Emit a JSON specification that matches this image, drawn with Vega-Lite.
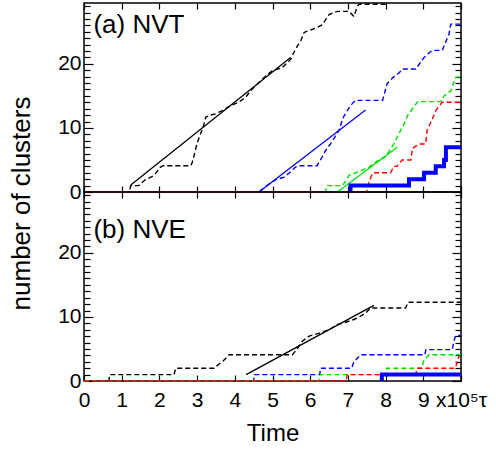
{
  "$schema": "https://vega.github.io/schema/vega-lite/v6.json",
  "padding": {"left": 7, "top": 0, "right": 2, "bottom": 4},
  "bounds": "flush",
  "spacing": 0,
  "config": {
    "font": "Liberation Sans",
    "view": {"stroke": "black", "strokeWidth": 1.5},
    "axis": {"grid": false, "domain": false, "tickColor": "black", "tickWidth": 1.2, "labelColor": "black", "titleColor": "black", "labelFont": "Liberation Sans", "titleFont": "Liberation Sans", "titleFontWeight": "normal", "labelFlush": false, "labelOverlap": false}
  },
  "datasets": {
    "nvt": [
      {"s":"black","k":"mean","i":0,"t":0,"n":0},{"s":"black","k":"mean","i":1,"t":1.2,"n":0},{"s":"black","k":"mean","i":2,"t":1.24,"n":1.0},{"s":"black","k":"mean","i":3,"t":1.45,"n":1.0},{"s":"black","k":"mean","i":4,"t":1.6,"n":1.8},{"s":"black","k":"mean","i":5,"t":1.86,"n":2.6},{"s":"black","k":"mean","i":6,"t":2.03,"n":3.9},{"s":"black","k":"mean","i":7,"t":2.1,"n":4.1},{"s":"black","k":"mean","i":8,"t":2.83,"n":4.1},{"s":"black","k":"mean","i":9,"t":2.87,"n":4.6},{"s":"black","k":"mean","i":10,"t":2.92,"n":5.7},{"s":"black","k":"mean","i":11,"t":3.0,"n":7.6},{"s":"black","k":"mean","i":12,"t":3.09,"n":9.1},{"s":"black","k":"mean","i":13,"t":3.16,"n":10.1},{"s":"black","k":"mean","i":14,"t":3.23,"n":11.7},{"s":"black","k":"mean","i":15,"t":3.35,"n":12.0},{"s":"black","k":"mean","i":16,"t":3.49,"n":12.2},{"s":"black","k":"mean","i":17,"t":3.67,"n":12.7},{"s":"black","k":"mean","i":18,"t":3.89,"n":13.5},{"s":"black","k":"mean","i":19,"t":4.1,"n":14.0},{"s":"black","k":"mean","i":20,"t":4.29,"n":14.8},{"s":"black","k":"mean","i":21,"t":4.42,"n":15.8},{"s":"black","k":"mean","i":22,"t":4.64,"n":17.1},{"s":"black","k":"mean","i":23,"t":4.82,"n":18.1},{"s":"black","k":"mean","i":24,"t":4.99,"n":18.9},{"s":"black","k":"mean","i":25,"t":5.26,"n":19.4},{"s":"black","k":"mean","i":26,"t":5.48,"n":20.7},{"s":"black","k":"mean","i":27,"t":5.61,"n":22.3},{"s":"black","k":"mean","i":28,"t":5.75,"n":23.6},{"s":"black","k":"mean","i":29,"t":5.84,"n":24.9},{"s":"black","k":"mean","i":30,"t":6.15,"n":25.6},{"s":"black","k":"mean","i":31,"t":6.32,"n":26.1},{"s":"black","k":"mean","i":32,"t":6.5,"n":27.7},{"s":"black","k":"mean","i":33,"t":6.72,"n":28.2},{"s":"black","k":"mean","i":34,"t":7.03,"n":28.2},{"s":"black","k":"mean","i":35,"t":7.16,"n":27.4},{"s":"black","k":"mean","i":36,"t":7.25,"n":29.0},{"s":"black","k":"mean","i":37,"t":7.3,"n":29.3},{"s":"black","k":"mean","i":38,"t":8.0,"n":29.3},
      {"s":"blue","k":"mean","i":0,"t":0,"n":0},{"s":"blue","k":"mean","i":1,"t":4.64,"n":0},{"s":"blue","k":"mean","i":2,"t":4.85,"n":1.0},{"s":"blue","k":"mean","i":3,"t":5.08,"n":1.9},{"s":"blue","k":"mean","i":4,"t":5.3,"n":2.3},{"s":"blue","k":"mean","i":5,"t":5.45,"n":3.0},{"s":"blue","k":"mean","i":6,"t":5.61,"n":3.9},{"s":"blue","k":"mean","i":7,"t":5.7,"n":4.1},{"s":"blue","k":"mean","i":8,"t":6.18,"n":4.1},{"s":"blue","k":"mean","i":9,"t":6.3,"n":5.3},{"s":"blue","k":"mean","i":10,"t":6.41,"n":6.5},{"s":"blue","k":"mean","i":11,"t":6.55,"n":7.6},{"s":"blue","k":"mean","i":12,"t":6.76,"n":9.6},{"s":"blue","k":"mean","i":13,"t":6.85,"n":11.2},{"s":"blue","k":"mean","i":14,"t":6.9,"n":11.9},{"s":"blue","k":"mean","i":15,"t":7.07,"n":13.5},{"s":"blue","k":"mean","i":16,"t":7.2,"n":14.3},{"s":"blue","k":"mean","i":17,"t":7.92,"n":14.3},{"s":"blue","k":"mean","i":18,"t":8.04,"n":16.9},{"s":"blue","k":"mean","i":19,"t":8.2,"n":17.9},{"s":"blue","k":"mean","i":20,"t":8.36,"n":18.6},{"s":"blue","k":"mean","i":21,"t":8.45,"n":19.2},{"s":"blue","k":"mean","i":22,"t":8.8,"n":19.2},{"s":"blue","k":"mean","i":23,"t":9.02,"n":21.0},{"s":"blue","k":"mean","i":24,"t":9.15,"n":21.7},{"s":"blue","k":"mean","i":25,"t":9.24,"n":22.1},{"s":"blue","k":"mean","i":26,"t":9.5,"n":22.1},{"s":"blue","k":"mean","i":27,"t":9.55,"n":22.8},{"s":"blue","k":"mean","i":28,"t":9.68,"n":24.6},{"s":"blue","k":"mean","i":29,"t":9.73,"n":26.2},{"s":"blue","k":"mean","i":30,"t":10,"n":26.2},
      {"s":"green","k":"mean","i":0,"t":0,"n":0},{"s":"green","k":"mean","i":1,"t":6.4,"n":0},{"s":"green","k":"mean","i":2,"t":6.45,"n":1.0},{"s":"green","k":"mean","i":3,"t":6.85,"n":1.0},{"s":"green","k":"mean","i":4,"t":6.95,"n":1.8},{"s":"green","k":"mean","i":5,"t":7.03,"n":2.6},{"s":"green","k":"mean","i":6,"t":7.16,"n":2.9},{"s":"green","k":"mean","i":7,"t":7.38,"n":3.4},{"s":"green","k":"mean","i":8,"t":7.56,"n":3.9},{"s":"green","k":"mean","i":9,"t":7.82,"n":5.0},{"s":"green","k":"mean","i":10,"t":8.0,"n":5.5},{"s":"green","k":"mean","i":11,"t":8.22,"n":7.5},{"s":"green","k":"mean","i":12,"t":8.3,"n":8.5},{"s":"green","k":"mean","i":13,"t":8.44,"n":10.1},{"s":"green","k":"mean","i":14,"t":8.49,"n":10.6},{"s":"green","k":"mean","i":15,"t":8.58,"n":11.9},{"s":"green","k":"mean","i":16,"t":8.8,"n":13.7},{"s":"green","k":"mean","i":17,"t":8.85,"n":14.1},{"s":"green","k":"mean","i":18,"t":9.46,"n":14.1},{"s":"green","k":"mean","i":19,"t":9.55,"n":15.0},{"s":"green","k":"mean","i":20,"t":9.73,"n":15.8},{"s":"green","k":"mean","i":21,"t":9.86,"n":17.9},{"s":"green","k":"mean","i":22,"t":10,"n":18.0},
      {"s":"red","k":"mean","i":0,"t":0,"n":0},{"s":"red","k":"mean","i":1,"t":7.5,"n":0},{"s":"red","k":"mean","i":2,"t":7.56,"n":1.6},{"s":"red","k":"mean","i":3,"t":7.65,"n":2.9},{"s":"red","k":"mean","i":4,"t":7.69,"n":3.0},{"s":"red","k":"mean","i":5,"t":8.13,"n":3.0},{"s":"red","k":"mean","i":6,"t":8.22,"n":4.0},{"s":"red","k":"mean","i":7,"t":8.3,"n":4.0},{"s":"red","k":"mean","i":8,"t":8.44,"n":5.0},{"s":"red","k":"mean","i":9,"t":8.67,"n":5.0},{"s":"red","k":"mean","i":10,"t":8.71,"n":6.8},{"s":"red","k":"mean","i":11,"t":8.89,"n":7.5},{"s":"red","k":"mean","i":12,"t":9.06,"n":7.5},{"s":"red","k":"mean","i":13,"t":9.1,"n":9.6},{"s":"red","k":"mean","i":14,"t":9.24,"n":11.4},{"s":"red","k":"mean","i":15,"t":9.33,"n":12.7},{"s":"red","k":"mean","i":16,"t":9.5,"n":14.0},{"s":"red","k":"mean","i":17,"t":10,"n":14.0},
      {"s":"black","k":"fit","i":0,"t":1.24,"n":1.1},{"s":"black","k":"fit","i":1,"t":5.48,"n":21.0},
      {"s":"blue","k":"fit","i":0,"t":4.64,"n":0},{"s":"blue","k":"fit","i":1,"t":7.47,"n":12.8},
      {"s":"green","k":"fit","i":0,"t":6.72,"n":0},{"s":"green","k":"fit","i":1,"t":8.31,"n":7.0},
      {"s":"blue","k":"run","i":0,"t":7.07,"n":0},{"s":"blue","k":"run","i":1,"t":7.07,"n":1},{"s":"blue","k":"run","i":2,"t":8.62,"n":1},{"s":"blue","k":"run","i":3,"t":8.62,"n":2},{"s":"blue","k":"run","i":4,"t":9.02,"n":2},{"s":"blue","k":"run","i":5,"t":9.02,"n":3},{"s":"blue","k":"run","i":6,"t":9.33,"n":3},{"s":"blue","k":"run","i":7,"t":9.33,"n":4},{"s":"blue","k":"run","i":8,"t":9.55,"n":4},{"s":"blue","k":"run","i":9,"t":9.55,"n":5},{"s":"blue","k":"run","i":10,"t":9.6,"n":5},{"s":"blue","k":"run","i":11,"t":9.6,"n":7},{"s":"blue","k":"run","i":12,"t":10,"n":7}
    ],
    "nve": [
      {"s":"black","k":"mean","i":0,"t":0,"n":0},{"s":"black","k":"mean","i":1,"t":0.66,"n":0},{"s":"black","k":"mean","i":2,"t":0.68,"n":1.0},{"s":"black","k":"mean","i":3,"t":2.39,"n":1.0},{"s":"black","k":"mean","i":4,"t":2.43,"n":2.0},{"s":"black","k":"mean","i":5,"t":3.45,"n":2.0},{"s":"black","k":"mean","i":6,"t":3.55,"n":2.5},{"s":"black","k":"mean","i":7,"t":3.67,"n":3.0},{"s":"black","k":"mean","i":8,"t":3.85,"n":4.1},{"s":"black","k":"mean","i":9,"t":5.53,"n":4.1},{"s":"black","k":"mean","i":10,"t":5.65,"n":5.0},{"s":"black","k":"mean","i":11,"t":5.79,"n":6.2},{"s":"black","k":"mean","i":12,"t":5.97,"n":7.0},{"s":"black","k":"mean","i":13,"t":6.2,"n":7.4},{"s":"black","k":"mean","i":14,"t":6.5,"n":8.0},{"s":"black","k":"mean","i":15,"t":6.71,"n":8.8},{"s":"black","k":"mean","i":16,"t":6.9,"n":9.1},{"s":"black","k":"mean","i":17,"t":7.16,"n":9.6},{"s":"black","k":"mean","i":18,"t":7.3,"n":10.0},{"s":"black","k":"mean","i":19,"t":7.47,"n":10.6},{"s":"black","k":"mean","i":20,"t":7.6,"n":11.4},{"s":"black","k":"mean","i":21,"t":8.53,"n":11.4},{"s":"black","k":"mean","i":22,"t":8.6,"n":12.3},{"s":"black","k":"mean","i":23,"t":10,"n":12.3},
      {"s":"blue","k":"mean","i":0,"t":0,"n":0},{"s":"blue","k":"mean","i":1,"t":4.5,"n":0},{"s":"blue","k":"mean","i":2,"t":4.52,"n":1.0},{"s":"blue","k":"mean","i":3,"t":6.25,"n":1.0},{"s":"blue","k":"mean","i":4,"t":6.28,"n":2.0},{"s":"blue","k":"mean","i":5,"t":7.1,"n":2.0},{"s":"blue","k":"mean","i":6,"t":7.16,"n":3.0},{"s":"blue","k":"mean","i":7,"t":7.34,"n":4.1},{"s":"blue","k":"mean","i":8,"t":9.04,"n":4.1},{"s":"blue","k":"mean","i":9,"t":9.07,"n":4.9},{"s":"blue","k":"mean","i":10,"t":9.77,"n":4.9},{"s":"blue","k":"mean","i":11,"t":9.81,"n":6.2},{"s":"blue","k":"mean","i":12,"t":9.86,"n":7.1},{"s":"blue","k":"mean","i":13,"t":10,"n":7.1},
      {"s":"green","k":"mean","i":0,"t":0,"n":0},{"s":"green","k":"mean","i":1,"t":6.23,"n":0},{"s":"green","k":"mean","i":2,"t":6.26,"n":1.0},{"s":"green","k":"mean","i":3,"t":8.0,"n":1.0},{"s":"green","k":"mean","i":4,"t":8.03,"n":2.0},{"s":"green","k":"mean","i":5,"t":8.97,"n":2.0},{"s":"green","k":"mean","i":6,"t":9.0,"n":3.0},{"s":"green","k":"mean","i":7,"t":9.15,"n":4.1},{"s":"green","k":"mean","i":8,"t":10,"n":4.1},
      {"s":"red","k":"mean","i":0,"t":0,"n":0},{"s":"red","k":"mean","i":1,"t":6.95,"n":0},{"s":"red","k":"mean","i":2,"t":6.98,"n":1.0},{"s":"red","k":"mean","i":3,"t":8.8,"n":1.0},{"s":"red","k":"mean","i":4,"t":8.83,"n":2.0},{"s":"red","k":"mean","i":5,"t":9.85,"n":2.0},{"s":"red","k":"mean","i":6,"t":9.9,"n":3.0},{"s":"red","k":"mean","i":7,"t":9.95,"n":4.0},{"s":"red","k":"mean","i":8,"t":10,"n":4.0},
      {"s":"black","k":"fit","i":0,"t":4.3,"n":1.0},{"s":"black","k":"fit","i":1,"t":7.69,"n":11.8},
      {"s":"blue","k":"run","i":0,"t":7.9,"n":0},{"s":"blue","k":"run","i":1,"t":7.9,"n":1},{"s":"blue","k":"run","i":2,"t":10,"n":1}
    ]
  },
  "vconcat": [
    {
      "width": 377,
      "height": 189,
      "layer": [
        {
          "data": {"name": "nvt"},
          "transform": [{"filter": "datum.k === 'mean'"}],
          "mark": {"type": "line", "strokeDash": [5, 3], "strokeWidth": 1.4, "strokeCap": "butt"},
          "encoding": {
            "x": {"field": "t", "type": "quantitative", "scale": {"domain": [0, 10], "nice": false},
                  "axis": {"orient": "bottom", "values": [0,1,2,3,4,5,6,7,8,9,10], "tickSize": -6, "labels": false, "title": null}},
            "y": {"field": "n", "type": "quantitative", "scale": {"domain": [0, 29.5], "nice": false},
                  "axis": {"orient": "left", "values": [0,1,2,3,4,5,6,7,8,9,10,11,12,13,14,15,16,17,18,19,20,21,22,23,24,25,26,27,28,29],
                           "tickSize": {"condition": {"test": "datum.value % 10 === 0", "value": -9}, "value": -6},
                           "labelExpr": "datum.value % 10 === 0 ? datum.label : ''",
                           "labelFontSize": {"condition": {"test": "datum.value % 10 === 0", "value": 21}, "value": 1},
                           "labelPadding": 12,
                           "title": "number of clusters", "titleFontSize": 26, "titleX": -50, "titleY": 200}},
            "color": {"field": "s", "type": "nominal", "scale": {"domain": ["black","blue","green","red"], "range": ["#000000","#0000ff","#00dd00","#ff0000"]}, "legend": null},
            "order": {"field": "i", "type": "quantitative"}
          }
        },
        {
          "data": {"name": "nvt"},
          "transform": [{"filter": "datum.k === 'fit'"}],
          "mark": {"type": "line", "strokeWidth": 1.3},
          "encoding": {
            "x": {"field": "t", "type": "quantitative", "axis": null},
            "y": {"field": "n", "type": "quantitative", "axis": null},
            "color": {"field": "s", "type": "nominal", "legend": null},
            "order": {"field": "i", "type": "quantitative"}
          }
        },
        {
          "data": {"name": "nvt"},
          "transform": [{"filter": "datum.k === 'run'"}],
          "mark": {"type": "line", "strokeWidth": 4, "strokeJoin": "miter", "strokeCap": "butt"},
          "encoding": {
            "x": {"field": "t", "type": "quantitative", "axis": null},
            "y": {"field": "n", "type": "quantitative", "axis": null},
            "color": {"field": "s", "type": "nominal", "legend": null},
            "order": {"field": "i", "type": "quantitative"}
          }
        },
        {
          "data": {"values": [{"label": "(a) NVT", "t": 0.25, "n": 24.8}]},
          "mark": {"type": "text", "align": "left", "baseline": "alphabetic", "fontSize": 26, "font": "Liberation Sans", "color": "black"},
          "encoding": {
            "x": {"field": "t", "type": "quantitative", "axis": {"orient": "top", "values": [0,1,2,3,4,5,6,7,8,9,10], "tickSize": -6, "labels": false, "title": null}},
            "y": {"field": "n", "type": "quantitative",
                  "axis": {"orient": "right", "values": [0,1,2,3,4,5,6,7,8,9,10,11,12,13,14,15,16,17,18,19,20,21,22,23,24,25,26,27,28,29],
                           "tickSize": {"condition": {"test": "datum.value % 10 === 0", "value": -9}, "value": -6}, "labels": false, "title": null}},
            "text": {"field": "label"}
          }
        }
      ],
      "resolve": {"axis": {"x": "independent", "y": "independent"}}
    },
    {
      "width": 377,
      "height": 189,
      "layer": [
        {
          "data": {"name": "nve"},
          "transform": [{"filter": "datum.k === 'mean'"}],
          "mark": {"type": "line", "strokeDash": [5, 3], "strokeWidth": 1.4, "strokeCap": "butt"},
          "encoding": {
            "x": {"field": "t", "type": "quantitative", "scale": {"domain": [0, 10], "nice": false},
                  "axis": {"orient": "bottom", "values": [0,1,2,3,4,5,6,7,8,9,10], "tickSize": -6,
                           "labelExpr": "datum.value === 10 ? 'x10⁵τ' : datum.label",
                           "labelFontSize": 21, "labelPadding": 14,
                           "title": "Time", "titleFontSize": 24, "titlePadding": 11}},
            "y": {"field": "n", "type": "quantitative", "scale": {"domain": [0, 29.5], "nice": false},
                  "axis": {"orient": "left", "values": [0,1,2,3,4,5,6,7,8,9,10,11,12,13,14,15,16,17,18,19,20,21,22,23,24,25,26,27,28,29],
                           "tickSize": {"condition": {"test": "datum.value % 10 === 0", "value": -9}, "value": -6},
                           "labelExpr": "datum.value % 10 === 0 ? datum.label : ''",
                           "labelFontSize": {"condition": {"test": "datum.value % 10 === 0", "value": 21}, "value": 1},
                           "labelPadding": 12, "title": null}},
            "color": {"field": "s", "type": "nominal", "scale": {"domain": ["black","blue","green","red"], "range": ["#000000","#0000ff","#00dd00","#ff0000"]}, "legend": null},
            "order": {"field": "i", "type": "quantitative"}
          }
        },
        {
          "data": {"name": "nve"},
          "transform": [{"filter": "datum.k === 'fit'"}],
          "mark": {"type": "line", "strokeWidth": 1.3},
          "encoding": {
            "x": {"field": "t", "type": "quantitative", "axis": null},
            "y": {"field": "n", "type": "quantitative", "axis": null},
            "color": {"field": "s", "type": "nominal", "legend": null},
            "order": {"field": "i", "type": "quantitative"}
          }
        },
        {
          "data": {"name": "nve"},
          "transform": [{"filter": "datum.k === 'run'"}],
          "mark": {"type": "line", "strokeWidth": 4, "strokeJoin": "miter", "strokeCap": "butt"},
          "encoding": {
            "x": {"field": "t", "type": "quantitative", "axis": null},
            "y": {"field": "n", "type": "quantitative", "axis": null},
            "color": {"field": "s", "type": "nominal", "legend": null},
            "order": {"field": "i", "type": "quantitative"}
          }
        },
        {
          "data": {"values": [{"label": "(b) NVE", "t": 0.25, "n": 22.3}]},
          "mark": {"type": "text", "align": "left", "baseline": "alphabetic", "fontSize": 26, "font": "Liberation Sans", "color": "black"},
          "encoding": {
            "x": {"field": "t", "type": "quantitative", "axis": {"orient": "top", "values": [0,1,2,3,4,5,6,7,8,9,10], "tickSize": -6, "labels": false, "title": null}},
            "y": {"field": "n", "type": "quantitative",
                  "axis": {"orient": "right", "values": [0,1,2,3,4,5,6,7,8,9,10,11,12,13,14,15,16,17,18,19,20,21,22,23,24,25,26,27,28,29],
                           "tickSize": {"condition": {"test": "datum.value % 10 === 0", "value": -9}, "value": -6}, "labels": false, "title": null}},
            "text": {"field": "label"}
          }
        }
      ],
      "resolve": {"axis": {"x": "independent", "y": "independent"}}
    }
  ]
}
